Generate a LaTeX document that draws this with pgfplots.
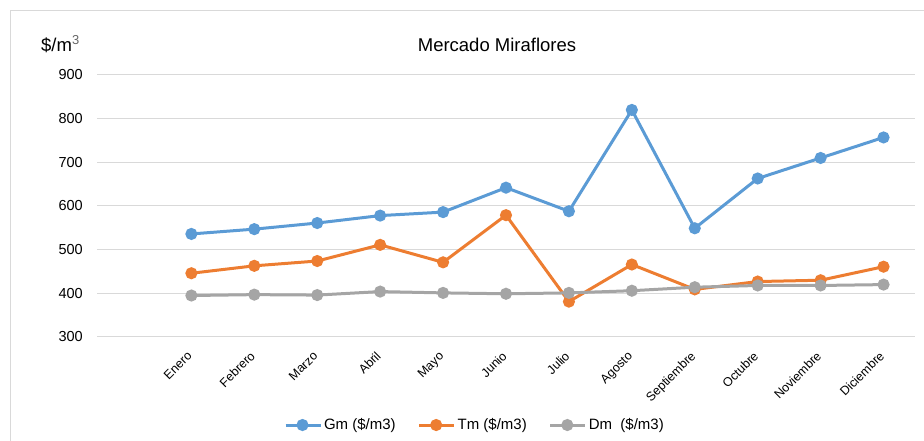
\documentclass[border=0pt]{standalone}
\usepackage{fontspec}
\setmainfont{Liberation Sans}
\usepackage{pgfplots}
\pgfplotsset{compat=1.18}
\definecolor{cblue}{HTML}{5B9BD5}
\definecolor{corange}{HTML}{ED7D31}
\definecolor{cgray}{HTML}{A5A5A5}
\definecolor{gridc}{HTML}{D9D9D9}
\begin{document}
\begin{tikzpicture}
\useasboundingbox (0pt,0pt) rectangle (924pt,441pt);
\draw[gridc, line width=1pt] (10pt,0pt) -- (10pt,430pt) -- (924pt,430pt);
\node[font=\fontsize{18.5}{20}\selectfont] at (497pt,396pt) {Mercado Miraflores};
\node[font=\fontsize{18.5}{20}\selectfont, anchor=west, inner sep=0pt] at (41pt,397pt) {\$/m\textsuperscript{\color{black!60}3}};
\begin{axis}[
  at={(97pt,104pt)}, anchor=south west, scale only axis,
  width=818pt, height=262pt,
  xmin=-1.5, xmax=11.5, ymin=300, ymax=900,
  ytick={300,400,...,900},
  xtick={0,...,11},
  xticklabels={Enero,Febrero,Marzo,Abril,Mayo,Junio,Julio,Agosto,Septiembre,Octubre,Noviembre,Diciembre},
  axis line style={draw=none},
  major tick length=0pt,
  ymajorgrids, grid style={gridc, line width=1pt},
  /pgf/number format/assume math mode=true,
  yticklabel style={font=\fontsize{14.5}{16}\selectfont, anchor=east, inner sep=0pt, xshift=-14pt},
  xticklabel style={font=\fontsize{12.5}{14}\selectfont, rotate=45, anchor=north east, inner sep=0pt, yshift=-6pt, xshift=-13pt},
  legend style={at={(0.462,-0.336)}, anchor=center, draw=none, legend columns=3,
    font=\fontsize{15}{17}\selectfont,
    /tikz/every even column/.append style={column sep=20pt}},
  legend image code/.code={\draw[#1, mark repeat=2, mark phase=2] plot coordinates {(0pt,0pt) (17pt,0pt) (35pt,0pt)};},
  every axis plot/.append style={line width=3pt, mark=*, mark size=4.5pt, mark options={solid}},
]
\addplot[cblue] coordinates {(0,536) (1,547) (2,561) (3,578) (4,586) (5,642) (6,588) (7,820) (8,549) (9,663) (10,710) (11,757)};
\addlegendentry{Gm (\$/m3)}
\addplot[corange] coordinates {(0,446) (1,463) (2,474) (3,511) (4,471) (5,579) (6,381) (7,466) (8,409) (9,427) (10,430) (11,461)};
\addlegendentry{Tm (\$/m3)}
\addplot[cgray] coordinates {(0,395) (1,397) (2,396) (3,404) (4,401) (5,399) (6,401) (7,406) (8,414) (9,418) (10,418) (11,420)};
\addlegendentry{Dm\ \ (\$/m3)}
\end{axis}
\end{tikzpicture}
\end{document}
